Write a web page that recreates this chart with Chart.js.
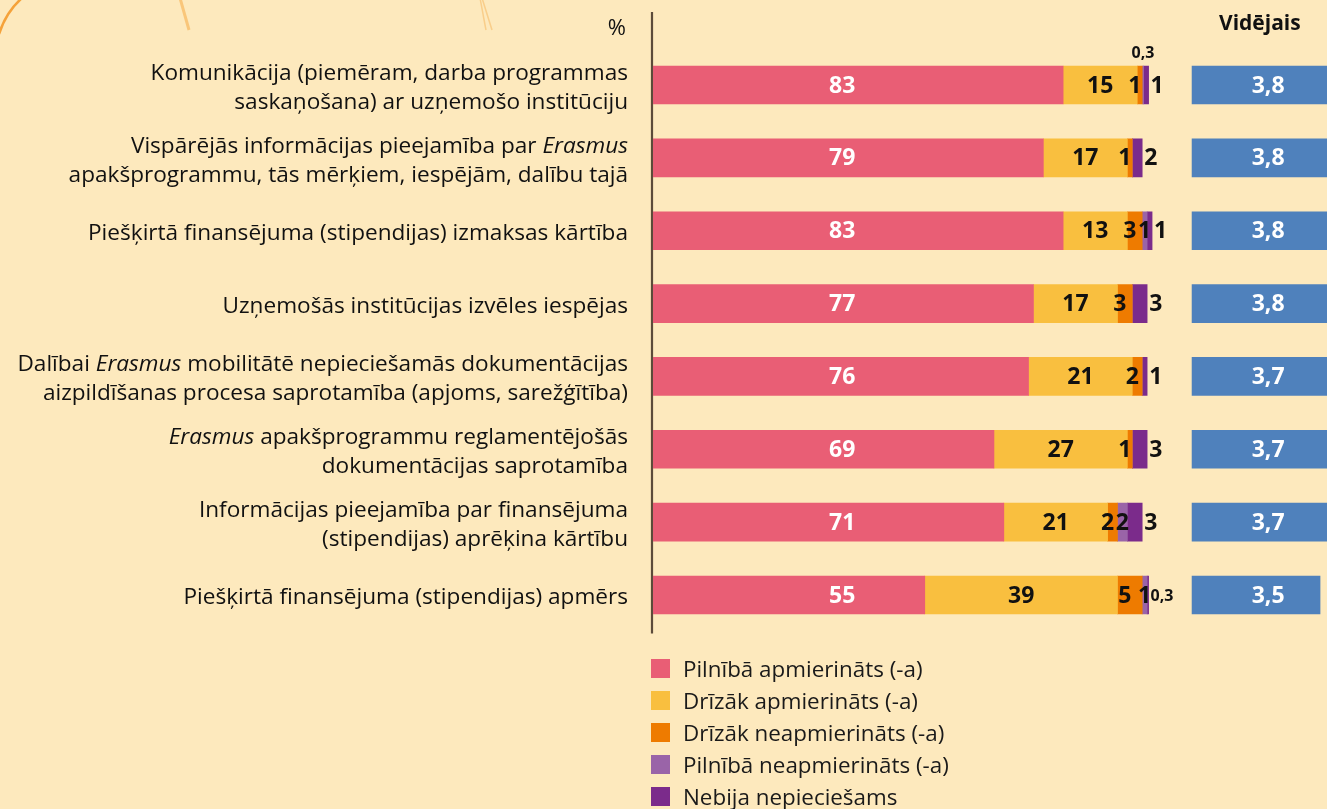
<!DOCTYPE html>
<html lang="lv">
<head>
<meta charset="utf-8">
<script src="https://cdn.jsdelivr.net/npm/chart.js@4"></script>
<style>
  html, body { margin: 0; padding: 0; background: #FDE9BD; }
  #wrap { position: relative; width: 1327px; height: 809px; overflow: hidden; background: #FDE9BD; font-family: "Open Sans", sans-serif; }
  #deco { position: absolute; left: 0; top: 0; }
  #c { position: absolute; left: 0; top: 0; }
  .hdr { position: absolute; color: #111; line-height: 1; white-space: nowrap; }
  #legend { position: absolute; left: 651px; top: 652.5px; }
  .li { display: flex; align-items: center; height: 32px; font-size: 22.4px; color: #1a1a1a; white-space: nowrap; }
  .sw { width: 19px; height: 19px; margin-right: 13px; flex: none; }
</style>
</head>
<body>
<div id="wrap">
  <svg id="deco" width="1327" height="809">
    <path d="M -1 34 Q 6 12 22 -2" fill="none" stroke="#F5A23A" stroke-width="2.5"/>
    <path d="M 180 -2 L 189 30" fill="none" stroke="#F9C67A" stroke-width="3"/>
    <path d="M 480 -2 L 486 30" fill="none" stroke="#F9CE8A" stroke-width="1.5"/>
    <path d="M 482 -2 L 492 30" fill="none" stroke="#F9CE8A" stroke-width="1.5"/>
  </svg>
  <canvas id="c" width="1327" height="809"></canvas>
  <div class="hdr" style="right:701px; top:15px; font-size:22px;">%</div>
  <div class="hdr" style="left:1219px; top:12px; font-size:21px; font-weight:700;">Vidējais</div>
  <div id="legend"></div>
</div>
<script>
// ---- Data ----
const categories = [
  ["Komunikācija (piemēram, darba programmas", "saskaņošana) ar uzņemošo institūciju"],
  ["Vispārējās informācijas pieejamība par _Erasmus_", "apakšprogrammu, tās mērķiem, iespējām, dalību tajā"],
  ["Piešķirtā finansējuma (stipendijas) izmaksas kārtība"],
  ["Uzņemošās institūcijas izvēles iespējas"],
  ["Dalībai _Erasmus_ mobilitātē nepieciešamās dokumentācijas", "aizpildīšanas procesa saprotamība (apjoms, sarežģītība)"],
  ["_Erasmus_ apakšprogrammu reglamentējošās", "dokumentācijas saprotamība"],
  ["Informācijas pieejamība par finansējuma", "(stipendijas) aprēķina kārtību"],
  ["Piešķirtā finansējuma (stipendijas) apmērs"]
];
const fullySatisfied     = [83, 79, 83, 77, 76, 69, 71, 55];
const ratherSatisfied    = [15, 17, 13, 17, 21, 27, 21, 39];
const ratherDissatisfied = [1, 1, 3, 3, 2, 1, 2, 5];
const fullyDissatisfied  = [0.3, 0, 1, 0, 0, 0, 2, 1];
const notNeeded          = [1, 2, 1, 3, 1, 3, 3, 0.3];
const averageScore       = [3.8, 3.8, 3.8, 3.8, 3.7, 3.7, 3.7, 3.5];
const seriesNames = [
  "Pilnībā apmierināts (-a)",
  "Drīzāk apmierināts (-a)",
  "Drīzāk neapmierināts (-a)",
  "Pilnībā neapmierināts (-a)",
  "Nebija nepieciešams"
];
const seriesColors = ["#E95E75", "#F9BF3F", "#EE7B00", "#9A64A8", "#7B2B8B"];
const averageColor = "#4F81BC";

// ---- Legend (HTML) ----
const lg = document.getElementById('legend');
seriesNames.forEach((n, i) => {
  const d = document.createElement('div'); d.className = 'li';
  const s = document.createElement('span'); s.className = 'sw'; s.style.background = seriesColors[i];
  const t = document.createElement('span'); t.textContent = n;
  d.appendChild(s); d.appendChild(t); lg.appendChild(d);
});

const fmt = v => String(v).replace('.', ',');
const FONT = '"Open Sans", sans-serif';
const LABEL_SIZE = 22.6;
const PINK_LABEL_AT = 38.3;   // x-value where the first series labels sit
const AVG_LABEL_AT = 2.08;    // x2-value where the average labels sit

const labelPlugin = {
  id: 'customLabels',
  beforeDatasetsDraw(chart) {
    const ctx = chart.ctx, xs = chart.scales.x, ys = chart.scales.y;
    // vertical axis line
    const ax = xs.getPixelForValue(0) - 1;
    ctx.save();
    ctx.strokeStyle = '#5C4B3A'; ctx.lineWidth = 2.2;
    ctx.beginPath(); ctx.moveTo(ax, 12); ctx.lineTo(ax, chart.chartArea.bottom + 2); ctx.stroke();
    // category labels with italic segments
    ctx.fillStyle = '#111'; ctx.textBaseline = 'middle'; ctx.textAlign = 'left';
    const rightX = 628, lh = 29;
    categories.forEach((lines, j) => {
      const cy = ys.getPixelForValue(j) + 3;
      const y0 = cy - (lines.length - 1) * lh / 2;
      lines.forEach((line, k) => {
        const segs = line.split('_').map((s, i) => ({ s, it: i % 2 === 1 }));
        let total = 0;
        segs.forEach(g => { ctx.font = (g.it ? 'italic ' : '') + LABEL_SIZE + 'px ' + FONT; g.w = ctx.measureText(g.s).width; total += g.w; });
        let x = rightX - total;
        segs.forEach(g => { ctx.font = (g.it ? 'italic ' : '') + LABEL_SIZE + 'px ' + FONT; ctx.fillText(g.s, x, y0 + k * lh); x += g.w; });
      });
    });
    ctx.restore();
  },
  afterDatasetsDraw(chart) {
    const ctx = chart.ctx, xs = chart.scales.x, x2 = chart.scales.x2;
    ctx.save();
    ctx.textBaseline = 'middle';
    chart.data.datasets.forEach((ds, di) => {
      const meta = chart.getDatasetMeta(di);
      meta.data.forEach((el, j) => {
        const v = ds.data[j];
        if (!v) return;
        let x, y = el.y, color = '#111', size = 23, align = 'center';
        if (di === 0) { x = xs.getPixelForValue(PINK_LABEL_AT); color = '#fff'; }
        else if (di === 1) { x = (el.x + el.base) / 2; }
        else if (di === 2) { x = (el.x + el.base) / 2 - 5; }
        else if (di === 3) {
          x = (el.x + el.base) / 2;
          if (v < 0.5) { y = el.y - 33; size = 16; }
        }
        else if (di === 4) { x = el.x + 2; align = 'left'; if (v < 0.5) size = 16; }
        else { x = x2.getPixelForValue(AVG_LABEL_AT); color = '#fff'; }
        ctx.fillStyle = color; ctx.textAlign = align;
        ctx.font = 'bold ' + size + 'px ' + FONT;
        ctx.fillText(fmt(v), x, y + 1);
      });
    });
    ctx.restore();
  }
};

const seriesData = [fullySatisfied, ratherSatisfied, ratherDissatisfied, fullyDissatisfied, notNeeded];
const datasets = seriesData.map((d, i) => ({
  label: seriesNames[i], data: d, backgroundColor: seriesColors[i],
  xAxisID: 'x', stack: 's', barThickness: 38, borderWidth: 0
}));
datasets.push({
  label: 'Vidējais', data: averageScore, backgroundColor: averageColor,
  xAxisID: 'x2', stack: 's', barThickness: 38, borderWidth: 0
});

new Chart(document.getElementById('c'), {
  type: 'bar',
  data: { labels: categories.map(l => l.join(' ').replace(/_/g, '')), datasets },
  options: {
    indexAxis: 'y',
    responsive: false,
    animation: false,
    layout: { padding: { left: 653, right: 0, top: 48.6, bottom: 177.6 } },
    scales: {
      x: { type: 'linear', min: 0, max: 136.4, stacked: true, display: false },
      x2: { type: 'linear', min: -14.74, max: 3.69, display: false },
      y: { type: 'category', stacked: true, display: false }
    },
    plugins: { legend: { display: false }, tooltip: { enabled: false } }
  },
  plugins: [labelPlugin]
});
</script>
</body>
</html>
